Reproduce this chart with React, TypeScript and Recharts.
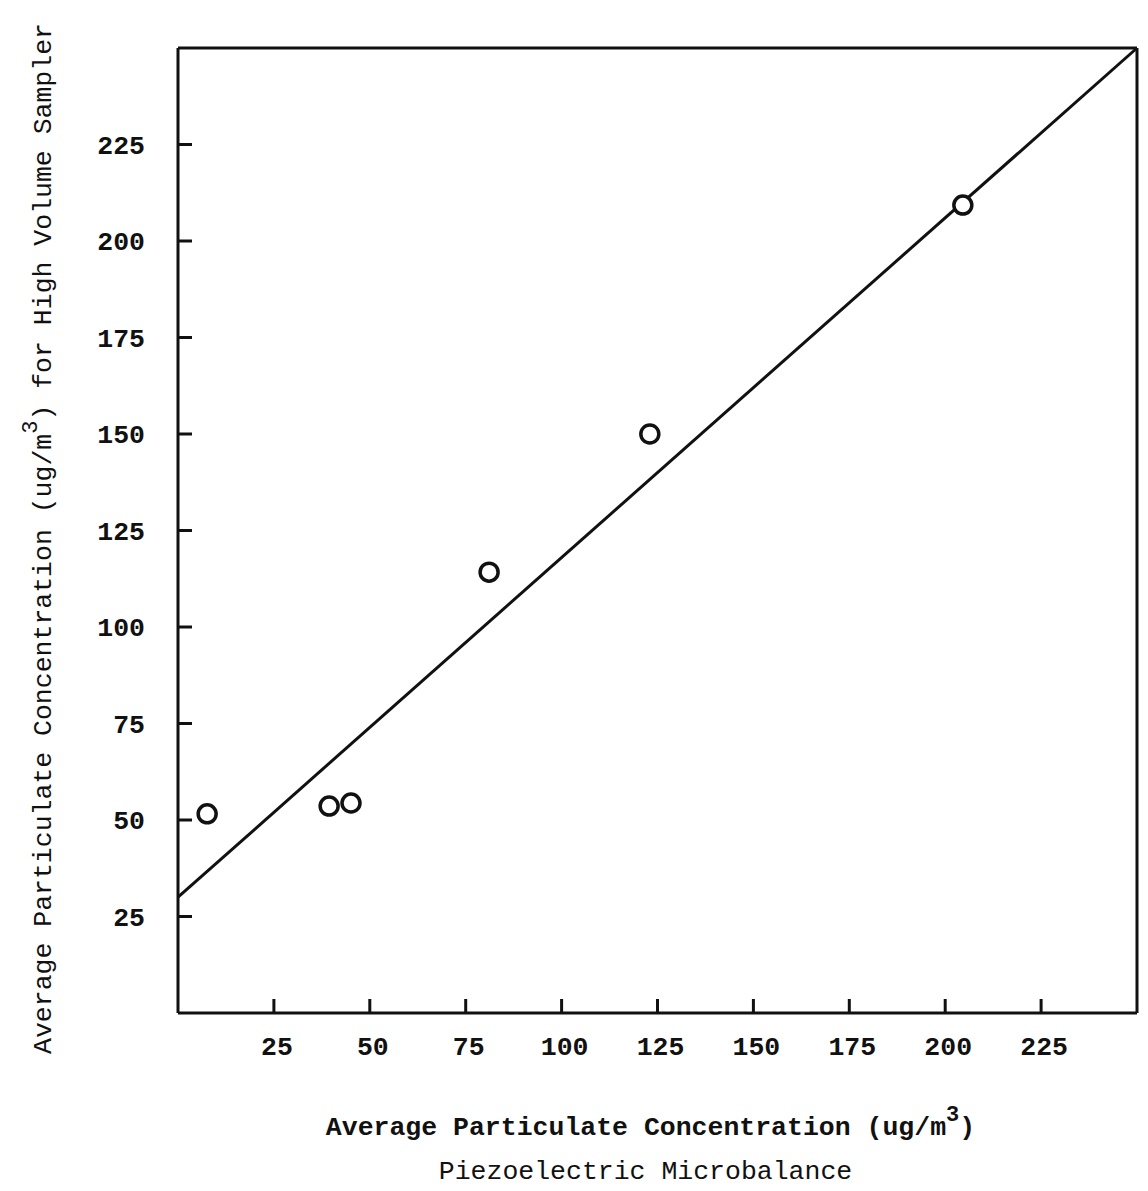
import React from 'react';
import { ScatterChart, Scatter, XAxis, YAxis } from 'recharts';

// Piezoelectric microbalance (x) vs high volume sampler (y), ug/m3
const pmbValues = [7.6, 39.4, 45.1, 81.1, 123.0, 204.6];
const hvsValues = [51.6, 53.6, 54.4, 114.2, 150.0, 209.3];

// fitted line end points
const fitX = [0, 250];
const fitY = [30, 250];

const axisTicks = [25, 50, 75, 100, 125, 150, 175, 200, 225];

const points = pmbValues.map((x, i) => ({ x, y: hvsValues[i] }));
const fitLine = fitX.map((x, i) => ({ x, y: fitY[i] }));

const FONT = '"Liberation Mono", "DejaVu Sans Mono", monospace';
const FS = 26.5;
const TICK_LEN = 14;
const INK = '#111';

const BottomTick = ({ x, y, payload }: any) => (
  <g>
    <line x1={x} y1={y} x2={x} y2={y - TICK_LEN} stroke={INK} strokeWidth={3} />
    <text x={x + 3} y={y + 42} textAnchor="middle" fontFamily={FONT} fontSize={FS} fontWeight="bold" fill={INK}>
      {payload.value}
    </text>
  </g>
);

const TopTick = ({ x, y }: any) => (
  <line x1={x} y1={y} x2={x} y2={y + TICK_LEN} stroke={INK} strokeWidth={3} />
);

const LeftTick = ({ x, y, payload }: any) => (
  <g>
    <line x1={x} y1={y} x2={x + TICK_LEN} y2={y} stroke={INK} strokeWidth={3} />
    <text x={x - 33} y={y + 9} textAnchor="end" fontFamily={FONT} fontSize={FS} fontWeight="bold" fill={INK}>
      {payload.value}
    </text>
  </g>
);

const RightTick = ({ x, y }: any) => (
  <line x1={x} y1={y} x2={x - TICK_LEN} y2={y} stroke={INK} strokeWidth={3} />
);

const XTitle = ({ viewBox }: any) => {
  const cx = viewBox.x + viewBox.width / 2;
  const y = viewBox.y;
  return (
    <g fontFamily={FONT} fontSize={FS} fill={INK}>
      <text x={cx - 7} y={y + 122} textAnchor="middle" fontWeight="bold">
        Average Particulate Concentration (ug/m<tspan dy={-14} fontSize={22}>3</tspan>
        <tspan dy={14}>)</tspan>
      </text>
      <text x={cx - 12} y={y + 166} textAnchor="middle">
        Piezoelectric Microbalance
      </text>
    </g>
  );
};

const YTitle = ({ viewBox }: any) => {
  const cx = 51;
  const cy = viewBox.y + viewBox.height / 2 + 8;
  return (
    <text
      x={cx}
      y={cy}
      transform={`rotate(-90 ${cx} ${cy})`}
      textAnchor="middle"
      fontFamily={FONT}
      fontSize={FS}
      fill={INK}
    >
      Average Particulate Concentration (ug/m<tspan dy={-14} fontSize={22}>3</tspan>
      <tspan dy={14}>) for High Volume Sampler</tspan>
    </text>
  );
};

const Ring = ({ cx, cy }: any) => (
  <circle cx={cx} cy={cy} r={9} fill="#fff" stroke={INK} strokeWidth={3.5} />
);

export default function App() {
  return (
    <div style={{ position: 'absolute', left: 0, top: 0, background: '#fff' }}>
      <ScatterChart width={1148} height={1191} margin={{ top: 38, right: 1, bottom: 118, left: 118 }}>
        <XAxis
          dataKey="x"
          type="number"
          domain={[0, 250]}
          ticks={axisTicks}
          interval={0}
          height={60}
          tickSize={0}
          tickMargin={0}
          tickLine={false}
          axisLine={{ stroke: INK, strokeWidth: 3 }}
          tick={<BottomTick />}
          label={<XTitle />}
        />
        <XAxis
          xAxisId="top"
          orientation="top"
          type="number"
          domain={[0, 250]}
          ticks={axisTicks}
          interval={0}
          height={10}
          tickSize={0}
          tickMargin={0}
          tickLine={false}
          axisLine={{ stroke: INK, strokeWidth: 3 }}
          tick={<TopTick />}
        />
        <YAxis
          dataKey="y"
          type="number"
          domain={[0, 250]}
          ticks={axisTicks}
          interval={0}
          width={60}
          tickSize={0}
          tickMargin={0}
          tickLine={false}
          axisLine={{ stroke: INK, strokeWidth: 3 }}
          tick={<LeftTick />}
          label={<YTitle />}
        />
        <YAxis
          yAxisId="right"
          orientation="right"
          type="number"
          domain={[0, 250]}
          ticks={axisTicks}
          interval={0}
          width={10}
          tickSize={0}
          tickMargin={0}
          tickLine={false}
          axisLine={{ stroke: INK, strokeWidth: 3 }}
          tick={<RightTick />}
        />
        <Scatter
          data={fitLine}
          line={{ stroke: INK, strokeWidth: 3 }}
          shape={() => <g />}
          isAnimationActive={false}
        />
        <Scatter data={points} shape={<Ring />} isAnimationActive={false} />
      </ScatterChart>
    </div>
  );
}
